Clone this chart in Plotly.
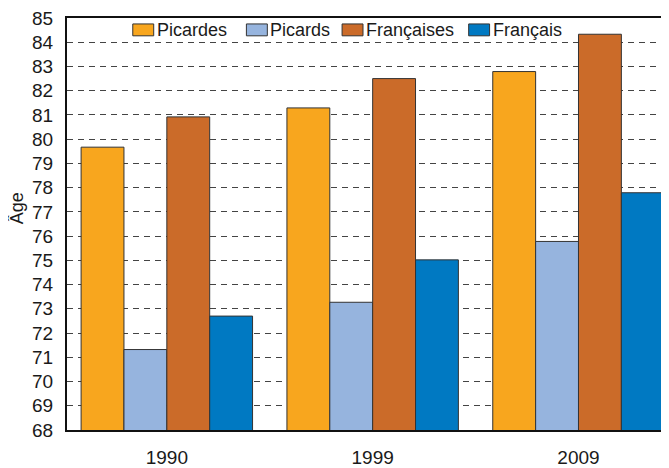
import plotly.graph_objects as go

# Espérance de vie à la naissance, Picardie vs France
years = ["1990", "1999", "2009"]
series_names = ["Picardes", "Picards", "Françaises", "Français"]
picardes = [79.67, 81.29, 82.79]
picards = [71.32, 73.27, 75.78]
francaises = [80.92, 82.50, 84.33]
francais = [72.70, 75.02, 77.79]
y_ticks = list(range(68, 86))

COLORS = ["#F8A61E", "#96B4DE", "#CB6B29", "#0079C2"]
FONT = "Liberation Sans, Arial, sans-serif"
NARROW = "Liberation Sans Narrow, Arial Narrow, sans-serif"
TEXT = "#1a1a1a"

# the page body has an 8px margin, so the figure is offset by 8px
OFF = 8
W, H = 661, 460
M_L, M_R, M_T, M_B = 59, 0, 8, 36
PW, PH = W - M_L - M_R, H - M_T - M_B


def px_x(px):
    return (px - OFF - M_L) / PW


def px_y(py):
    return (H - M_B - (py - OFF)) / PH


fig = go.Figure()
for name, vals, col in zip(series_names, [picardes, picards, francaises, francais], COLORS):
    fig.add_trace(
        go.Bar(
            x=years,
            y=vals,
            name=name,
            marker=dict(color=col, line=dict(color="#333333", width=1)),
            showlegend=False,
        )
    )

# hand-placed legend (swatch left edges in page px)
legend_x = [133, 247, 343, 470]
for name, col, lx in zip(series_names, COLORS, legend_x):
    fig.add_shape(
        type="rect", xref="paper", yref="paper",
        x0=px_x(lx), x1=px_x(lx + 21), y0=px_y(34), y1=px_y(22),
        fillcolor=col, line=dict(color="#333333", width=1),
    )
    fig.add_annotation(
        x=px_x(lx + 22), y=px_y(28), xref="paper", yref="paper",
        text=name, showarrow=False, xanchor="left", yanchor="middle",
        font=dict(family=FONT, size=18, color=TEXT),
    )

fig.add_annotation(
    x=px_x(17), y=px_y(208), xref="paper", yref="paper",
    text="Âge", textangle=-90, showarrow=False,
    xanchor="center", yanchor="middle",
    font=dict(family=FONT, size=18, color=TEXT),
)

fig.update_layout(
    width=W,
    height=H,
    margin=dict(l=M_L, r=M_R, t=M_T, b=M_B),
    barmode="group",
    bargap=0.167,
    bargroupgap=0,
    paper_bgcolor="white",
    plot_bgcolor="white",
    font=dict(family=NARROW, size=19, color=TEXT),
    xaxis=dict(
        range=[-0.485, 2.43],
        showline=True, linecolor="#111111", linewidth=2, mirror=True,
        showgrid=False, ticks="", ticklabelstandoff=9,
        tickfont=dict(family=NARROW, size=19, color=TEXT),
    ),
    yaxis=dict(
        range=[68, 85],
        tickvals=y_ticks,
        showline=True, linecolor="#111111", linewidth=2, mirror=True,
        showgrid=True, gridcolor="#444444", gridwidth=1.2, griddash="6px,5px",
        ticks="", ticklabelstandoff=8, ticklabeloverflow="allow",
        tickfont=dict(family=NARROW, size=19, color=TEXT),
        zeroline=False,
    ),
)

fig.write_html("out.html")
